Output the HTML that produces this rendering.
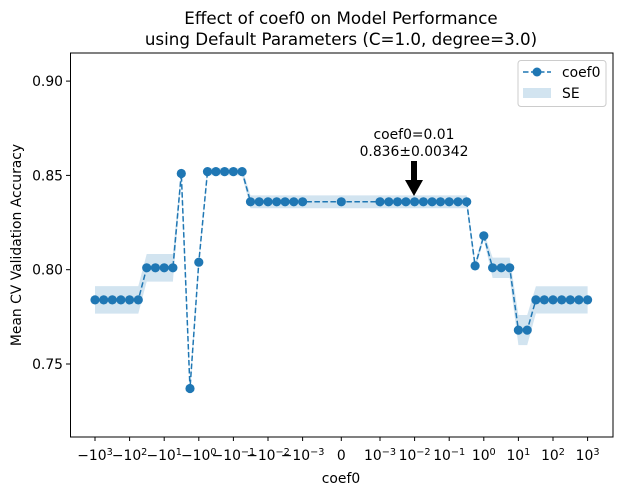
<!DOCTYPE html>
<html><head><meta charset="utf-8"><style>
body{margin:0;background:#fff;}
svg{font-family:"DejaVu Sans","Liberation Sans",sans-serif;}
</style></head><body>
<svg id="chart" width="622" height="496" viewBox="0 0 622 496">
<text x="341" y="24" text-anchor="middle" font-size="16.7">Effect of coef0 on Model Performance</text>
<text x="341" y="45" text-anchor="middle" font-size="16.7">using Default Parameters (C=1.0, degree=3.0)</text>
<g id="band"></g>
<g id="series"></g>
<rect x="70.5" y="53" width="542.5" height="384" fill="none" stroke="#000" stroke-width="1"/>
<g id="xticks"></g>
<g id="yticks"></g>
<text x="341" y="483" text-anchor="middle" font-size="13.9">coef0</text>
<text transform="translate(21,245) rotate(-90)" text-anchor="middle" font-size="13.9">Mean CV Validation Accuracy</text>
<g>
<text x="414" y="139" text-anchor="middle" font-size="13.9">coef0=0.01</text>
<text x="414" y="156" text-anchor="middle" font-size="13.9">0.836±0.00342</text>
<polygon points="411,161 417,161 417,180 423,180 414,196 405,180 411,180" fill="#000"/>
</g>
<g>
<rect x="518" y="60.5" width="88" height="46" rx="3" fill="#fff" stroke="#ccc"/>
<line x1="523" y1="72" x2="551" y2="72" stroke="#1f77b4" stroke-width="1.5" stroke-dasharray="5.5,2.5"/>
<circle cx="537" cy="72" r="4.5" fill="#1f77b4"/>
<text x="562" y="77" font-size="13.9">coef0</text>
<rect x="523" y="88" width="28" height="10" fill="#1f77b4" fill-opacity="0.2"/>
<text x="562" y="98" font-size="13.9">SE</text>
</g>
</svg>
<script>
const xVals=[-1000,-562,-316,-178,-100,-56,-32,-18,-10,-5.6,-3.2,-1.8,-1,-0.56,-0.32,-0.18,-0.1,-0.056,-0.032,-0.018,-0.01,-0.0056,-0.0032,-0.0018,-0.001,0,0.001,0.0018,0.0032,0.0056,0.01,0.018,0.032,0.056,0.1,0.18,0.32,0.56,1,1.8,3.2,5.6,10,18,32,56,100,178,316,562,1000];
const yVals=[0.784,0.784,0.784,0.784,0.784,0.784,0.801,0.801,0.801,0.801,0.851,0.737,0.804,0.852,0.852,0.852,0.852,0.852,0.836,0.836,0.836,0.836,0.836,0.836,0.836,0.836,0.836,0.836,0.836,0.836,0.836,0.836,0.836,0.836,0.836,0.836,0.836,0.802,0.818,0.801,0.801,0.801,0.768,0.768,0.784,0.784,0.784,0.784,0.784,0.784,0.784];
const seVals=[0.0073,0.0073,0.0073,0.0073,0.0073,0.0073,0.0073,0.0073,0.0073,0.0073,0.003,0.003,0.002,0.002,0.002,0.002,0.002,0.002,0.0034,0.0034,0.0034,0.0034,0.0034,0.0034,0.0034,0.0034,0.0034,0.0034,0.0034,0.0034,0.0034,0.0034,0.0034,0.0034,0.0034,0.0034,0.0034,0.002,0.002,0.0054,0.0054,0.0054,0.008,0.008,0.0072,0.0072,0.0072,0.0072,0.0072,0.0072,0.0072];
const xTickVals=[-1000,-100,-10,-1,-0.1,-0.01,-0.001,0,0.001,0.01,0.1,1,10,100,1000];
const xTickLabels=["−10<tspan dy='-5' font-size='9.7'>3</tspan>","−10<tspan dy='-5' font-size='9.7'>2</tspan>","−10<tspan dy='-5' font-size='9.7'>1</tspan>","−10<tspan dy='-5' font-size='9.7'>0</tspan>","−10<tspan dy='-5' font-size='9.7'>−1</tspan>","−10<tspan dy='-5' font-size='9.7'>−2</tspan>","−10<tspan dy='-5' font-size='9.7'>−3</tspan>","0","10<tspan dy='-5' font-size='9.7'>−3</tspan>","10<tspan dy='-5' font-size='9.7'>−2</tspan>","10<tspan dy='-5' font-size='9.7'>−1</tspan>","10<tspan dy='-5' font-size='9.7'>0</tspan>","10<tspan dy='-5' font-size='9.7'>1</tspan>","10<tspan dy='-5' font-size='9.7'>2</tspan>","10<tspan dy='-5' font-size='9.7'>3</tspan>"];
const yTickVals=[0.75,0.80,0.85,0.90];
const yTickLabels=["0.75","0.80","0.85","0.90"];
const NS="http://www.w3.org/2000/svg";
const X0=341.3,LIN=38.7,DEC=34.6,T=0.001;
function xs(v){if(v===0)return X0;const a=Math.abs(v),s=Math.sign(v);
 if(a<T)return X0+s*a/T*LIN;return X0+s*(LIN+Math.log10(a/T)*DEC);}
function ys(v){return 364-(v-0.75)*1886;}
function mk(tag,attrs,parent){const e=document.createElementNS(NS,tag);for(const k in attrs)e.setAttribute(k,attrs[k]);parent.appendChild(e);return e;}
let up=[],lo=[];
for(let i=0;i<xVals.length;i++){up.push(xs(xVals[i]).toFixed(1)+","+ys(yVals[i]+seVals[i]).toFixed(1));lo.unshift(xs(xVals[i]).toFixed(1)+","+ys(yVals[i]-seVals[i]).toFixed(1));}
const band=mk("polygon",{points:up.concat(lo).join(" "),fill:"#1f77b4","fill-opacity":"0.2"},document.getElementById("band"));


const ser=document.getElementById("series");
const pl=mk("polyline",{points:xVals.map((x,i)=>xs(x).toFixed(1)+","+ys(yVals[i]).toFixed(1)).join(" "),fill:"none",stroke:"#1f77b4","stroke-width":"1.5","stroke-dasharray":"5.5,2.5"},ser);


xVals.forEach((x,i)=>{const c=mk("circle",{cx:xs(x).toFixed(1),cy:ys(yVals[i]).toFixed(1),r:4.6,fill:"#1f77b4"},ser);
 
 });
const xt=document.getElementById("xticks");
xTickVals.forEach((v,i)=>{const x=xs(v);
 const l=mk("line",{x1:x,y1:437,x2:x,y2:441,stroke:"#000"},xt);
 
 
 const t=mk("text",{x:x,y:460,"text-anchor":"middle","font-size":"13.9"},xt);t.innerHTML=xTickLabels[i];
 
 });
const yt=document.getElementById("yticks");
yTickVals.forEach((v,i)=>{const y=ys(v);
 const l=mk("line",{x1:66,y1:y,x2:70.5,y2:y,stroke:"#000"},yt);
 
 
 const t=mk("text",{x:63,y:y+5,"text-anchor":"end","font-size":"13.9"},yt);t.textContent=yTickLabels[i];
 
 });
</script>
</body></html>
